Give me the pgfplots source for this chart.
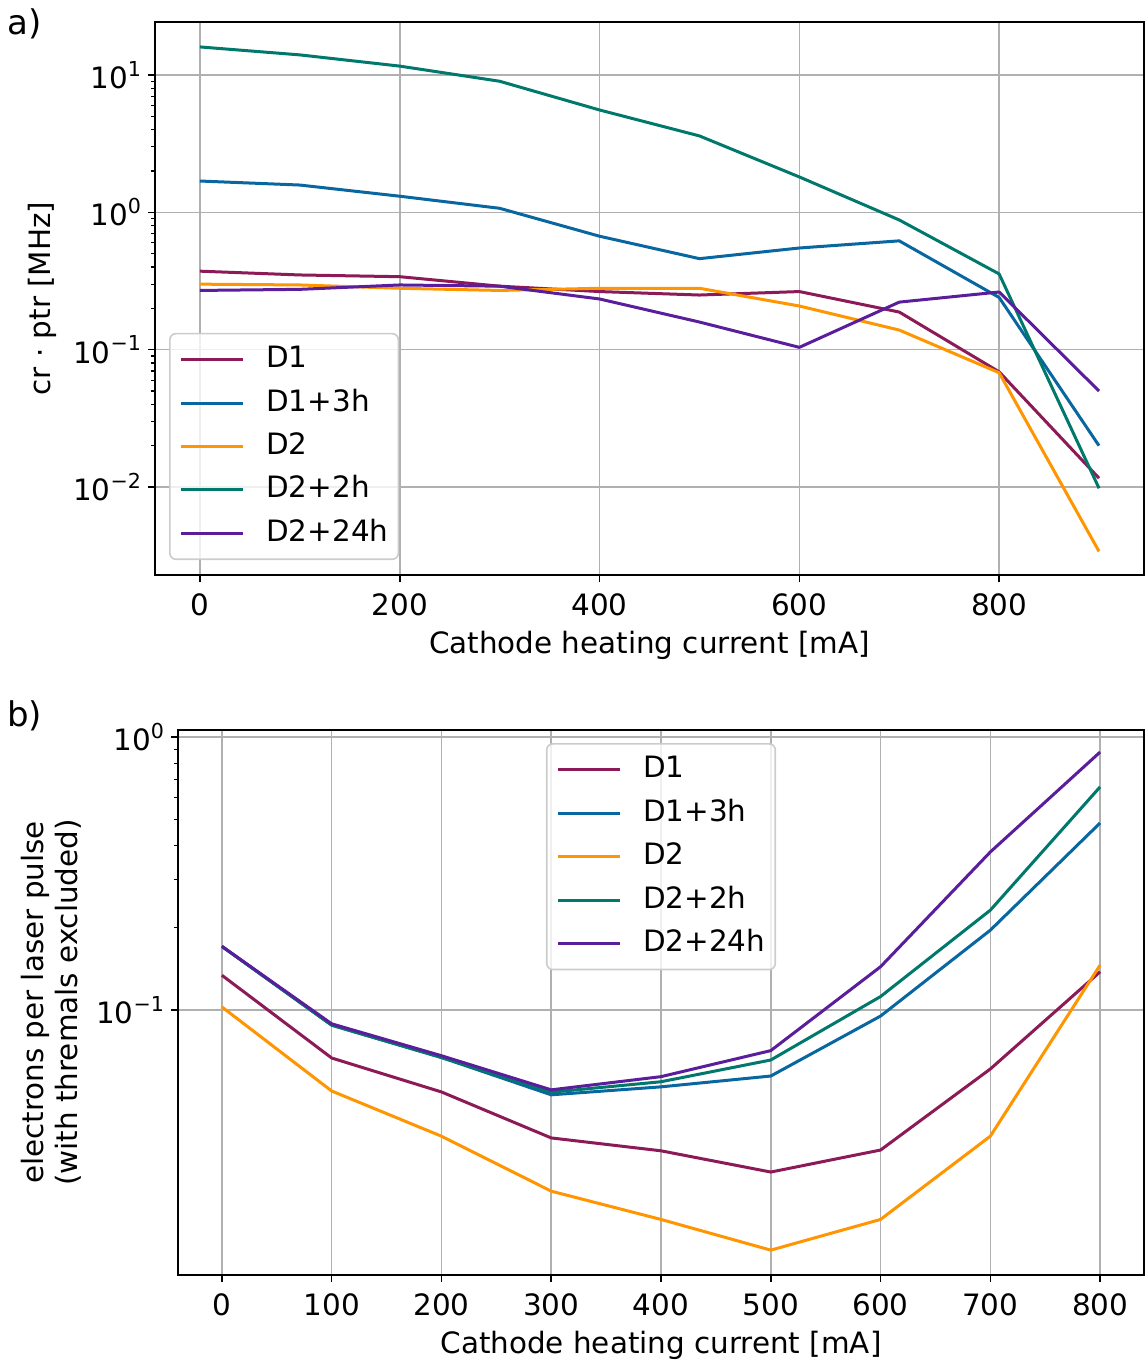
\documentclass[border=0pt]{standalone}
\usepackage{fontspec}
\setmainfont{DejaVu Sans}
\usepackage{pgfplots}
\pgfplotsset{compat=1.18}
\definecolor{cD1}{HTML}{8B1A56}
\definecolor{cD1h}{HTML}{0866A0}
\definecolor{cD2}{HTML}{FF9500}
\definecolor{cD2h}{HTML}{00786C}
\definecolor{cD2d}{HTML}{5A1E9C}
\definecolor{gridc}{HTML}{B0B0B0}
\newcommand{\fs}{\fontsize{14.7}{17}\selectfont}
\newcommand{\tenpow}[1]{10\raisebox{0.42em}{\fontsize{10.3}{11}\selectfont #1}}
\pgfplotsset{
  mystyle/.style={
    scale only axis,
    font=\fs,
    tick label style={font=\fs},
    xticklabel style={yshift=-2.5pt},
    label style={font=\fs},
    grid=major,
    major grid style={gridc, line width=0.8pt},
    axis line style={black, line width=0.8pt},
    tick align=outside,
    tick pos=left,
    major tick length=3.5pt,
    minor tick length=2pt,
    every tick/.style={black, line width=0.8pt},
    minor tick style={black, line width=0.6pt},
    every axis plot/.append style={line width=1.5pt, no marks, line join=round},
    legend cell align=left,
    legend image code/.code={\path[draw=none,fill=none] (0pt,-1pt) rectangle (42.5pt,1pt); \draw[##1] (0pt,0pt) -- (31pt,0pt);},
    legend style={font=\fs, draw=black!20, line width=0.8pt, rounded corners=3pt,
      fill=white, fill opacity=0.8, text opacity=1,
      inner xsep=5pt, inner ysep=6pt, row sep=7.7pt,
      nodes={text height=11pt, text depth=3pt, inner sep=0pt}},
  }
}
\begin{document}
\begin{tikzpicture}
\useasboundingbox (0,0) rectangle (572pt,-681.5pt);
\begin{axis}[ymode=log, mystyle,
  /pgf/number format/assume math mode=true,
  at={(77.5pt,-11pt)}, anchor=north west,
  width=494.5pt, height=276.5pt,
  xmin=-45, xmax=945,
  ymin=0.00229, ymax=24.3,
  xtick={0,200,400,600,800},
  ytick={0.01,0.1,1,10},
  yticklabels={\tenpow{−2},\tenpow{−1},\tenpow{0},\tenpow{1}},
  xlabel={Cathode heating current [mA]},
  ylabel={cr · ptr [MHz]},
  xlabel style={at={(axis description cs:0.5,-0.1266)}, anchor=center},
  ylabel style={at={(axis description cs:-0.114,0.5)}, anchor=center},
  legend style={at={(0.0142,0.027)}, anchor=south west},
]
\addplot[cD1] coordinates {(0,0.373) (100,0.35) (200,0.34) (300,0.29) (400,0.265) (500,0.25) (600,0.265) (700,0.188) (800,0.069) (900,0.0116)};
\addlegendentry{D1}
\addplot[cD1h] coordinates {(0,1.69) (100,1.58) (200,1.31) (300,1.07) (400,0.67) (500,0.46) (600,0.55) (700,0.62) (800,0.24) (900,0.020)};
\addlegendentry{D1+3h}
\addplot[cD2] coordinates {(0,0.30) (100,0.296) (200,0.28) (300,0.27) (400,0.28) (500,0.28) (600,0.208) (700,0.139) (800,0.068) (900,0.0034)};
\addlegendentry{D2}
\addplot[cD2h] coordinates {(0,16.0) (100,14.0) (200,11.6) (300,9.0) (400,5.56) (500,3.6) (600,1.81) (700,0.88) (800,0.356) (900,0.0098)};
\addlegendentry{D2+2h}
\addplot[cD2d] coordinates {(0,0.27) (100,0.275) (200,0.296) (300,0.29) (400,0.234) (500,0.159) (600,0.104) (700,0.222) (800,0.263) (900,0.050)};
\addlegendentry{D2+24h}
\end{axis}
\node[anchor=west, font=\fontsize{17}{20}\selectfont, inner sep=0pt] at (3.5pt,-12pt) {a)};
\begin{axis}[ymode=log, mystyle,
  /pgf/number format/assume math mode=true,
  at={(89pt,-365pt)}, anchor=north west,
  width=483pt, height=272.5pt,
  xmin=-40, xmax=840,
  ymin=0.0107, ymax=1.06,
  xtick={0,100,200,300,400,500,600,700,800},
  ytick={0.1,1},
  yticklabels={\tenpow{−1},\tenpow{0}},
  xlabel={Cathode heating current [mA]},
  ylabel={electrons per laser pulse\\(with thremals excluded)},
  ylabel style={align=center, at={(axis description cs:-0.1315,0.5)}, anchor=center},
  xlabel style={at={(axis description cs:0.5,-0.130)}, anchor=center},
  legend style={at={(0.5,0.976)}, anchor=north},
]
\addplot[cD1] coordinates {(0,0.134) (100,0.0667) (200,0.0501) (300,0.034) (400,0.0305) (500,0.0255) (600,0.0307) (700,0.0608) (800,0.138)};
\addlegendentry{D1}
\addplot[cD1h] coordinates {(0,0.171) (100,0.088) (200,0.067) (300,0.0489) (400,0.0523) (500,0.0573) (600,0.095) (700,0.196) (800,0.484)};
\addlegendentry{D1+3h}
\addplot[cD2] coordinates {(0,0.1026) (100,0.0505) (200,0.0345) (300,0.0217) (400,0.0171) (500,0.0132) (600,0.0171) (700,0.0345) (800,0.146)};
\addlegendentry{D2}
\addplot[cD2h] coordinates {(0,0.171) (100,0.088) (200,0.067) (300,0.050) (400,0.0546) (500,0.0656) (600,0.112) (700,0.232) (800,0.656)};
\addlegendentry{D2+2h}
\addplot[cD2d] coordinates {(0,0.171) (100,0.089) (200,0.068) (300,0.051) (400,0.057) (500,0.071) (600,0.144) (700,0.379) (800,0.88)};
\addlegendentry{D2+24h}
\end{axis}
\node[anchor=west, font=\fontsize{17}{20}\selectfont, inner sep=0pt] at (3.5pt,-358pt) {b)};
\end{tikzpicture}
\end{document}
